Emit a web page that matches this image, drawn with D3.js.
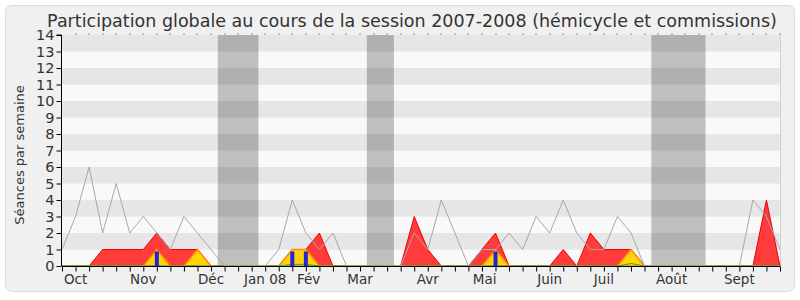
<!DOCTYPE html>
<html>
<head>
<meta charset="utf-8">
<script src="https://cdn.jsdelivr.net/npm/d3@7"></script>
<style>
  body { margin: 0; background: #fff; }
  svg { display: block; font-family: "DejaVu Sans", Verdana, sans-serif; }
</style>
</head>
<body>
<svg id="chart" width="800" height="300"></svg>
<script>
'use strict'

// seances par semaine, une valeur par semaine (oct 2007 -> sept 2008)
var total = [1,3,6,2,5,2,3,2,1,3,2,1,0,0,0,0,1,4,2,1,2,0,0,0,0,0,2,1,4,2,0,1,1,2,1,3,2,4,2,1,1,3,2,0,0,0,0,0,0,0,0,4,3,1];
var commission = [0,0,0,1,1,1,1,2,1,1,1,0,0,0,0,0,0,1,1,2,0,0,0,0,0,0,3,1,0,0,0,1,2,0,0,0,0,1,0,2,1,1,1,0,0,0,0,0,0,0,0,0,4,0];
var hemicycle = [0,0,0,0,0,0,0,1,0,0,1,0,0,0,0,0,0,1,1,0,0,0,0,0,0,0,0,0,0,0,0,0,1,0,0,0,0,0,0,0,0,0,1,0,0,0,0,0,0,0,0,0,0,0];
var interventions = [0,0,0,0,0,0,0,0,0,0,0,0,0,0,0,0,0,0.1,0.1,0,0,0,0,0,0,0,0,0,0,0,0,0,0,0,0,0,0,0,0,0,0,0,0.15,0,0,0,0,0,0,0,0,0,0,0];
var questions = [0,0,0,0,0,0,0,1,0,0,0,0,0,0,0,0,0,1,1,0,0,0,0,0,0,0,0,0,0,0,0,0,1,0,0,0,0,0,0,0,0,0,0,0,0,0,0,0,0,0,0,0,0,0];

var monthLabels = ["Oct", "Nov", "Déc", "Jan 08", "Fév", "Mar", "Avr", "Mai", "Juin", "Juil", "Août", "Sept"];
var monthWeeks = [1, 6, 11, 15, 18.2, 22, 27, 31.2, 36, 40, 45, 50];
var yTicks = [0,1,2,3,4,5,6,7,8,9,10,11,12,13,14];
// vacances parlementaires (debut, fin) en semaines
var vacStart = [11.5, 22.5, 43.5];
var vacEnd = [14.5, 24.5, 47.5];

var svg = d3.select('#chart');
var weeks = d3.range(total.length);

var x = d3.scaleLinear().domain([0, total.length - 1]).range([62, 780]);
var y = d3.scaleLinear().domain([0, 14]).range([266, 35]);

// fond
svg.append('rect')
    .attr('x', 5.5).attr('y', 5.5)
    .attr('width', 789).attr('height', 286)
    .attr('rx', 6)
    .style('fill', '#f0f0f0')
    .style('stroke', '#dcdcdc');

// title
svg.append('text')
    .attr('x', 412).attr('y', 27)
    .attr('text-anchor', 'middle')
    .style('font-size', '17.5px')
    .style('fill', '#333')
    .text('Participation globale au cours de la session 2007-2008 (hémicycle et commissions)');

// bandes horizontales
svg.selectAll('rect.stripe')
    .data(yTicks.slice(0, 14))
    .enter().append('rect')
    .attr('class', 'stripe')
    .attr('x', x(0))
    .attr('y', function(d){ return y(d + 1); })
    .attr('width', x(total.length - 1) - x(0))
    .attr('height', function(d){ return y(d) - y(d + 1); })
    .style('fill', function(d){ return d % 2 == 1 ? '#e6e6e6' : '#f9f9f9'; });

svg.append('line')
    .attr('x1', x(total.length - 1) + 0.5).attr('x2', x(total.length - 1) + 0.5)
    .attr('y1', y(14)).attr('y2', y(0))
    .style('stroke', '#d0d0d0');

// petits points en haut
svg.selectAll('rect.dot')
    .data(weeks.slice(1))
    .enter().append('rect')
    .attr('class', 'dot')
    .attr('x', function(d){ return Math.round(x(d)) - 0.5; })
    .attr('y', y(14) - 1.5)
    .attr('width', 1).attr('height', 1)
    .style('fill', '#333');

// vacances
svg.selectAll('rect.vac')
    .data(vacStart)
    .enter().append('rect')
    .attr('class', 'vac')
    .attr('x', function(d){ return x(d); })
    .attr('y', y(14))
    .attr('width', function(d, i){ return x(vacEnd[i]) - x(d); })
    .attr('height', y(0) - y(14))
    .style('fill', '#000')
    .style('fill-opacity', 0.23);

function area(vals){
    return d3.area()
        .x(function(d){ return x(d); })
        .y0(y(0))
        .y1(function(d){ return y(vals[d]); })(weeks);
}
function line(vals){
    return d3.line()
        .x(function(d){ return x(d); })
        .y(function(d){ return y(vals[d]); })(weeks);
}

svg.append('path')
    .attr('d', area(commission))
    .style('fill', '#ff3b3b')
    .style('stroke', '#ee0000')
    .style('stroke-width', 1);

svg.append('path')
    .attr('d', area(hemicycle))
    .style('fill', '#ffd20a')
    .style('stroke', '#ff8c00')
    .style('stroke-width', 1.5);

svg.append('path')
    .attr('d', line(interventions))
    .style('fill', 'none')
    .style('stroke', '#22b14c')
    .style('stroke-width', 1);

svg.selectAll('rect.q')
    .data(weeks.filter(function(d){ return questions[d] > 0; }))
    .enter().append('rect')
    .attr('class', 'q')
    .attr('x', function(d){ return x(d) - 2; })
    .attr('y', function(d){ return y(questions[d]) + 2; })
    .attr('width', 4)
    .attr('height', function(d){ return y(0) - y(questions[d]) - 2; })
    .style('fill', '#2323d8');

svg.append('path')
    .attr('d', line(total))
    .style('fill', 'none')
    .style('stroke', '#a8a8a8')
    .style('stroke-width', 1);

// axes
var yAxis = d3.axisLeft(y).tickValues(yTicks).tickSize(5).tickPadding(2);
var gy = svg.append('g').attr('transform', 'translate(' + (x(0) - 0.5) + ',0)').call(yAxis);
gy.select('.domain').attr('d', 'M-5,' + y(14) + 'H0V' + y(0));
gy.selectAll('text').style('font-size', '14.5px').style('fill', '#333').style('font-family', '"DejaVu Sans", sans-serif');

var xAxis = d3.axisBottom(x).tickValues(weeks).tickSize(5).tickFormat('');
var gx = svg.append('g').attr('transform', 'translate(0,' + (y(0) + 0.5) + ')').call(xAxis);
gx.select('.domain').attr('d', 'M' + x(0) + ',0H' + x(total.length - 1));

svg.selectAll('text.month')
    .data(monthLabels)
    .enter().append('text')
    .attr('class', 'month')
    .attr('x', function(d, i){ return x(monthWeeks[i]); })
    .attr('y', 284)
    .attr('text-anchor', 'middle')
    .style('font-size', '13.5px')
    .style('fill', '#333')
    .text(function(d){ return d; });

svg.append('text')
    .attr('transform', 'translate(24,155) rotate(-90)')
    .attr('text-anchor', 'middle')
    .style('font-size', '13px')
    .style('fill', '#333')
    .text('Séances par semaine');
</script>
</body>
</html>
